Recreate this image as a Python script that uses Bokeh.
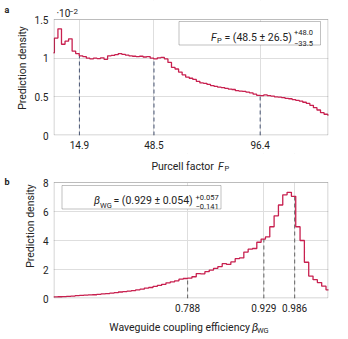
import numpy as np
from bokeh.plotting import figure
from bokeh.models import Label, BoxAnnotation, FixedTicker, Range1d
from bokeh.layouts import column, row
from bokeh.embed import file_html
from bokeh.resources import INLINE

# ---------------- data ----------------
# Panel a: Purcell factor histogram (prediction density, in units of 1e-2)
fp_bin_start = 2.0
fp_bin_width = 1.6
fp_density = [
    1.07, 1.26, 1.38, 1.18, 1.22, 1.25, 1.09, 1.06, 1.03, 1.02,
    1.00, 0.99, 1.00, 0.995, 1.005, 0.985, 1.03, 1.035, 1.045, 1.06,
    1.05, 1.04, 1.03, 1.025, 1.02, 1.025, 1.015, 1.02, 1.00, 0.99,
    1.005, 1.01, 0.99, 0.945, 0.88, 0.86, 0.82, 0.785, 0.755, 0.74,
    0.725, 0.70, 0.68, 0.675, 0.66, 0.645, 0.635, 0.625, 0.62, 0.61,
    0.60, 0.595, 0.58, 0.575, 0.57, 0.56, 0.55, 0.535, 0.52, 0.515,
    0.525, 0.515, 0.51, 0.50, 0.495, 0.49, 0.48, 0.475, 0.465, 0.455,
    0.445, 0.43, 0.415, 0.39, 0.36, 0.33, 0.295, 0.275, 0.265,
]
fp_percentiles = [14.9, 48.5, 96.4]
fp_yticks = [0, 0.5, 1, 1.5]
fp_ytick_labels = ["0", "0.5", "1", "1.5"]
fp_xrange = (3.2, 127.2)
fp_yrange = (0, 1.5)

# Panel b: waveguide coupling efficiency histogram
bwg_bin_start = 0.540
bwg_bin_width = 0.008
bwg_density = [
    0.11, 0.12, 0.13, 0.15, 0.17, 0.20, 0.21, 0.23, 0.25, 0.26,
    0.29, 0.32, 0.34, 0.37, 0.40, 0.45, 0.48, 0.51, 0.55, 0.60,
    0.64, 0.72, 0.76, 0.83, 0.90, 0.98, 1.08, 1.15, 1.22, 1.33,
    1.38, 1.40, 1.50, 1.72, 1.70, 1.85, 1.96, 2.08, 2.20, 2.40,
    2.35, 2.52, 2.75, 2.80, 3.20, 3.40, 3.45, 3.88, 4.10, 4.25,
    4.95, 5.70, 6.45, 7.15, 7.32, 7.05, 4.95, 4.00, 2.50, 1.55,
    1.30, 1.10, 0.85, 0.60,
]
bwg_percentiles = [0.788, 0.929, 0.986]
bwg_yticks = [0, 2, 4, 6, 8]
bwg_ytick_labels = ["0", "2", "4", "6", "8"]
bwg_xrange = (0.540, 1.0486)
bwg_yrange = (0, 8)

# ---------------- style / layout (page pixels, origin at top-left) ----------------
FONT = "Roboto"
CURVE = "#c8204f"
TXT = "#222222"
GRID = "#dedede"
FRAME = "#444444"
PAGE_W, PAGE_H = 348, 339
PX0 = 12                    # letters strip is x 0..12, panels x 12..348
W = PAGE_W - PX0
FL, FR = 53, 328            # frame left / right on page
BL, BR = FL - PX0, PAGE_W - FR
FW = FR - FL
BB = 18                     # bottom border for tick labels


def stairs(start, width, vals):
    edges = start + width * np.arange(len(vals) + 1)
    xs, ys = [], []
    for i, v in enumerate(vals):
        xs += [edges[i], edges[i + 1]]
        ys += [v, v]
    return edges, xs, ys


def txt(p, x, y, text, size, style="normal", align="left", baseline="alphabetic"):
    p.add_layout(Label(x=x, y=y, text=text, text_font=FONT,
                       text_font_size=f"{size}px", text_font_style=style,
                       text_align=align, text_baseline=baseline, text_color=TXT))


def strip(x0, x1, y0, y1):
    s = figure(width=x1 - x0, height=y1 - y0,
               x_range=Range1d(x0, x1), y_range=Range1d(y1, y0),
               x_axis_type=None, y_axis_type=None,
               output_backend="svg", toolbar_location=None,
               min_border=0, min_border_left=0, min_border_right=0,
               min_border_top=0, min_border_bottom=0)
    s.outline_line_color = None
    s.background_fill_color = "white"
    s.border_fill_color = "white"
    return s


def make_panel(start, width, vals, pct, xr, yr, yticks, ylabels,
               page_top, frame_top, frame_bottom, dash_color, label_standoff):
    # y range is extended upward so the text area above the data frame lies inside the frame
    unit = (frame_bottom - frame_top) / (yr[1] - yr[0])
    ytop = yr[1] + (frame_top - page_top) / unit
    H = frame_bottom - page_top + BB
    p = figure(width=W, height=H, x_range=Range1d(*xr), y_range=Range1d(yr[0], ytop),
               output_backend="svg", toolbar_location=None,
               min_border_left=BL, min_border_right=BR,
               min_border_top=0, min_border_bottom=BB)
    p.background_fill_color = "white"
    p.border_fill_color = "white"
    p.outline_line_color = None
    p.xaxis.ticker = FixedTicker(ticks=pct)
    p.xaxis.major_label_overrides = {t: f"{t:g}" for t in pct}
    p.yaxis.ticker = FixedTicker(ticks=yticks)
    p.yaxis.major_label_overrides = {t: l for t, l in zip(yticks, ylabels)}
    p.yaxis.bounds = (yr[0], yr[1])
    for ax in (p.xaxis[0], p.yaxis[0]):
        ax.axis_line_color = None
        ax.major_tick_line_color = None
        ax.minor_tick_line_color = None
        ax.major_tick_out = 0
        ax.major_tick_in = 0
        ax.minor_tick_out = 0
        ax.minor_tick_in = 0
        ax.major_label_text_font = FONT
        ax.major_label_text_font_size = "10px"
        ax.major_label_text_color = TXT
        ax.major_label_standoff = 5
    p.yaxis.axis_label = "Prediction density"
    p.yaxis.axis_label_text_font = FONT
    p.yaxis.axis_label_text_font_size = "10.5px"
    p.yaxis.axis_label_text_font_style = "normal"
    p.yaxis.axis_label_text_color = TXT
    p.yaxis.axis_label_standoff = label_standoff
    p.xgrid.ticker = FixedTicker(ticks=pct)
    p.ygrid.ticker = FixedTicker(ticks=yticks)
    p.grid.grid_line_color = GRID
    p.grid.grid_line_width = 1

    edges, xs, ys = stairs(start, width, vals)
    idx = [int(np.clip(np.searchsorted(edges, q, side="right") - 1, 0, len(vals) - 1)) for q in pct]
    heights = [vals[i] for i in idx]
    p.segment(x0=pct, y0=[yr[0]] * len(pct), x1=pct, y1=heights,
              line_color=dash_color, line_width=1.1, line_dash="4 3")
    p.line(xs, ys, line_color=CURVE, line_width=1.3)

    def tx(px):
        return xr[0] + (px - FL) / FW * (xr[1] - xr[0])

    def ty(py):
        return yr[0] + (frame_bottom - py) / unit

    # white text area above the data frame, then the frame outline
    p.add_layout(BoxAnnotation(bottom=yr[1], fill_color="white", fill_alpha=1.0,
                               line_color=None))
    p.add_layout(BoxAnnotation(left=tx(FL + 0.5), right=tx(FR - 0.5),
                               bottom=ty(frame_bottom - 0.5), top=yr[1],
                               fill_alpha=0.0, line_color=FRAME, line_width=1))
    return p, tx, ty


# ---------------- panel a (page y 0..153) ----------------
pa, ax_, ay_ = make_panel(fp_bin_start, fp_bin_width, fp_density, fp_percentiles,
                          fp_xrange, fp_yrange, fp_yticks, fp_ytick_labels,
                          0, 19, 135, "#56627e", 3)

pa.add_layout(BoxAnnotation(left=ax_(178.5), right=ax_(320), top=ay_(21), bottom=ay_(44.5),
                            fill_color="white", fill_alpha=1.0,
                            line_color="#333333", line_width=1))
pa.segment(x0=[ax_(183.5)], y0=[ay_(32.8)], x1=[ax_(205)], y1=[ay_(32.8)],
           line_color=CURVE, line_width=1.3)
txt(pa, ax_(210.5), ay_(37), "F", 10.5, style="italic")
txt(pa, ax_(216.5), ay_(40), "P", 7.5)
txt(pa, ax_(224), ay_(37), "= (48.5 ± 26.5)", 10.5)
txt(pa, ax_(293.5), ay_(32), "+48.0", 7.5)
txt(pa, ax_(293.5), ay_(42.5), "−33.5", 7.5)
# axis multiplier above the frame
txt(pa, ax_(56), ay_(13.3), "·10", 10)
txt(pa, ax_(68.5), ay_(10.5), "−2", 8)

# ---------------- panel b (page y 153..316) ----------------
pb, bx_, by_ = make_panel(bwg_bin_start, bwg_bin_width, bwg_density, bwg_percentiles,
                          bwg_xrange, bwg_yrange, bwg_yticks, bwg_ytick_labels,
                          153, 182, 298, "#6e6e6e", 3)

# x-axis title of panel a, in the text area at the top of panel b
txt(pb, bx_(213.3), by_(165.5), "Purcell factor", 10.5, align="right")
txt(pb, bx_(217.5), by_(165.5), "F", 10.5, style="italic")
txt(pb, bx_(224), by_(168.3), "P", 7.5)

pb.add_layout(BoxAnnotation(left=bx_(61.5), right=bx_(220.5), top=by_(185), bottom=by_(208.5),
                            fill_color="white", fill_alpha=1.0,
                            line_color="#333333", line_width=1))
pb.segment(x0=[bx_(66)], y0=[by_(196.5)], x1=[bx_(87.5)], y1=[by_(196.5)],
           line_color=CURVE, line_width=1.3)
txt(pb, bx_(93.5), by_(200), "β", 10.5, style="italic")
txt(pb, bx_(99.5), by_(204.5), "WG", 7.5)
txt(pb, bx_(113), by_(200), "= (0.929 ± 0.054)", 10.5)
txt(pb, bx_(195), by_(196.5), "+0.057", 7.5)
txt(pb, bx_(195), by_(206), "−0.141", 7.5)

# ---------------- x-axis title of panel b (page y 316..339) ----------------
fb = strip(PX0, PAGE_W, 316, PAGE_H)
txt(fb, 252, 326.5, "Waveguide coupling efficiency", 10.5, align="right")
txt(fb, 254.5, 326.5, "β", 10.5, style="italic")
txt(fb, 260.5, 330, "WG", 7.5)

# ---------------- panel letters ----------------
letters = strip(0, PX0, 0, PAGE_H)
txt(letters, 4, 9, "a", 9, style="bold")
txt(letters, 4, 181.7, "b", 9, style="bold")

layout = row(letters, column(pa, pb, fb, spacing=0), spacing=0)
open("out.html", "w").write(file_html(layout, INLINE))
